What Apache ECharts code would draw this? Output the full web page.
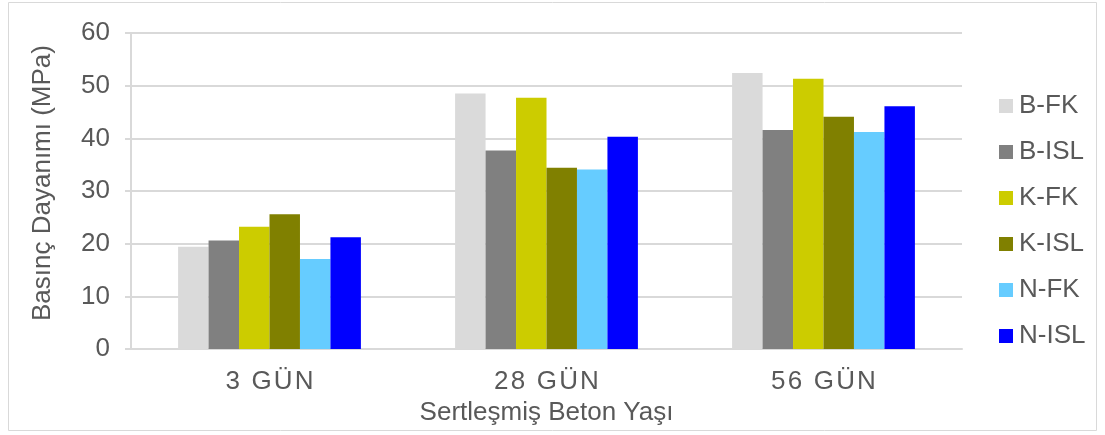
<!DOCTYPE html>
<html>
<head>
<meta charset="utf-8">
<script src="https://cdn.jsdelivr.net/npm/echarts@6/dist/echarts.min.js"></script>
<style>
  html, body { margin: 0; padding: 0; background: #fff; }
  #chart { width: 1105px; height: 435px; }
</style>
</head>
<body>
<div id="chart"></div>
<script>
// Concrete age groups
const categories = ['3 GÜN', '28 GÜN', '56 GÜN'];
// Compressive strength (MPa) per mix
const bFK  = [19.4, 48.5, 52.4];
const bISL = [20.6, 37.7, 41.6];
const kFK  = [23.2, 47.7, 51.3];
const kISL = [25.6, 34.4, 44.1];
const nFK  = [17.1, 34.1, 41.2];
const nISL = [21.2, 40.3, 46.1];
const seriesNames = ['B-FK', 'B-ISL', 'K-FK', 'K-ISL', 'N-FK', 'N-ISL'];
const seriesData = [bFK, bISL, kFK, kISL, nFK, nISL];
const colors = ['#dadada', '#808080', '#cccc00', '#808000', '#66ccff', '#0000ff'];

const font = '"Liberation Sans", Arial, sans-serif';
const textColor = '#595959';
const fs = 26;

const chart = echarts.init(document.getElementById('chart'), null, { renderer: 'canvas' });

chart.setOption({
  animation: false,
  color: colors,
  graphic: [{
    type: 'rect',
    shape: { x: 8.5, y: 2.5, width: 1088, height: 428 },
    style: { fill: 'none', stroke: '#d9d9d9', lineWidth: 1 },
    silent: true
  }],
  grid: { left: 131, right: 143, top: 33, bottom: 86 },
  legend: {
    orient: 'vertical',
    left: 994,
    top: 88,
    itemGap: 20,
    itemWidth: 14,
    itemHeight: 14,
    icon: 'rect',
    textStyle: { fontFamily: font, fontSize: fs, color: textColor, padding: [0, 0, 0, 1] },
    data: seriesNames
  },
  xAxis: {
    type: 'category',
    data: categories,
    name: 'Sertleşmiş Beton Yaşı',
    nameLocation: 'middle',
    nameGap: 45,
    nameTextStyle: { fontFamily: font, fontSize: fs, color: textColor },
    axisLine: { lineStyle: { color: '#d9d9d9', width: 2 } },
    axisTick: { show: false },
    axisLabel: {
      fontFamily: font, fontSize: fs, color: textColor, margin: 20,
      formatter: v => v.split('').join('\u200A')
    }
  },
  yAxis: {
    type: 'value',
    min: 0, max: 60, interval: 10,
    name: 'Basınç Dayanımı (MPa)',
    nameLocation: 'middle',
    nameGap: 75,
    nameTextStyle: { fontFamily: font, fontSize: fs, color: textColor, padding: [0, 0, 0, 16] },
    axisLine: { show: true, lineStyle: { color: '#d9d9d9', width: 2 } },
    axisTick: { show: true, length: 6, lineStyle: { color: '#d9d9d9', width: 2 } },
    axisLabel: { fontFamily: font, fontSize: fs, color: textColor, margin: 21 },
    splitLine: { lineStyle: { color: '#d9d9d9', width: 2 } }
  },
  series: seriesNames.map((name, i) => ({
    name,
    type: 'bar',
    data: seriesData[i],
    barGap: '0%',
    barCategoryGap: '34%',
    itemStyle: { color: colors[i] }
  }))
});
</script>
</body>
</html>
